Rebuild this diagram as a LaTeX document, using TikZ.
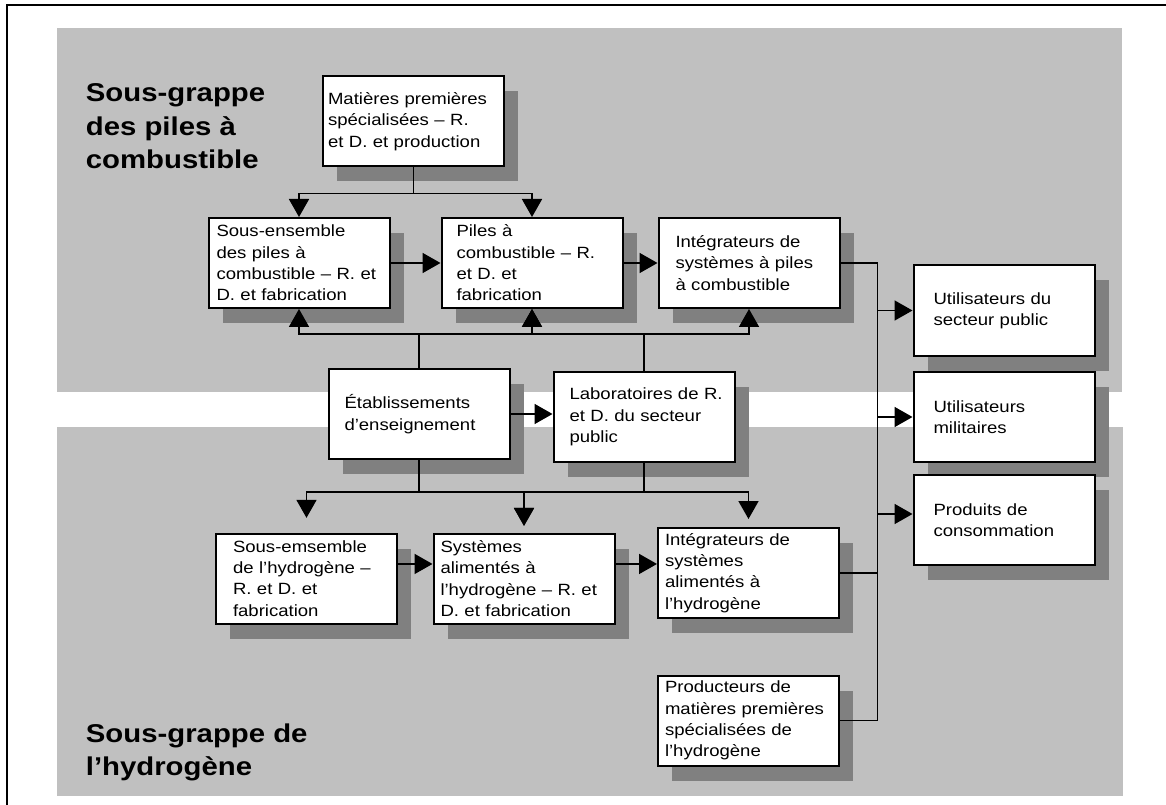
\documentclass[tikz,border=0pt]{standalone}
\usepackage{fontspec}
\setmainfont{Liberation Sans}[FakeStretch=1.14]
\usetikzlibrary{arrows.meta,shadows}

\definecolor{bandgrey}{HTML}{C0C0C0}
\definecolor{shadegrey}{HTML}{808080}

\begin{document}
\begin{tikzpicture}[x=0.75pt,y=-0.75pt,line width=1.3pt,
    >={Triangle[length=13.5pt,width=15pt]},
    box/.style={draw,fill=white,line width=1.5pt,minimum width=135.75pt,
      minimum height=67.5pt,inner xsep=0pt,inner ysep=0pt,text width=135.75pt,
      align=left,font=\fontsize{12.2pt}{16pt}\selectfont,
      drop shadow={shadow xshift=10.5pt,shadow yshift=-11.25pt,
        fill=shadegrey,draw=none,opacity=1}},
    pad/.style={execute at begin node={\leftskip=#1\relax}},
    title/.style={anchor=north west,inner sep=0pt,align=left,
      font=\fontsize{19.3pt}{25pt}\selectfont\bfseries}]
  \useasboundingbox (0,0) rectangle (1166,805);
  \fill[bandgrey] (57,28) rectangle (1122,392);
  \fill[bandgrey] (57,427) rectangle (1123,796);
  \draw (7,806) -- (7,5) -- (1167,5);

  \node[title] (pactitle) at (85,83) {Sous-grappe\\des piles à\\combustible};
  \node[title] (h2title)  at (85,723) {Sous-grappe de\\l’hydrogène};

  \node[box,pad=3.75pt]  (mat)     at (413.5,121.5) {Matières premières\\spécialisées – R.\\et D. et production};
  \node[box,pad=6pt]     (sens)    at (299,263)     {Sous-ensemble\\des piles à\\combustible – R. et\\D. et fabrication};
  \node[box,pad=11.25pt] (piles)   at (532,263)     {Piles à\\combustible – R.\\et D. et\\fabrication};
  \node[box,pad=12.75pt] (integ)   at (749,263)     {Intégrateurs de\\systèmes à piles\\à combustible};
  \node[box,pad=12pt]    (etab)    at (419,414)     {Établissements\\d’enseignement};
  \node[box,pad=12pt]    (labo)    at (644,417)     {Laboratoires de R.\\et D. du secteur\\public};
  \node[box,pad=15pt]    (usp)     at (1004,310.5)  {Utilisateurs du\\secteur public};
  \node[box,pad=15pt]    (umil)    at (1004,417)    {Utilisateurs\\militaires};
  \node[box,pad=15pt]    (prod)    at (1004,520)    {Produits de\\consommation};
  \node[box,pad=12.75pt] (sousemh) at (306.5,578.5) {Sous-emsemble\\de l’hydrogène –\\R. et D. et\\fabrication};
  \node[box,pad=5.25pt]  (syst)    at (524,578.5)   {Systèmes\\alimentés à\\l’hydrogène – R. et\\D. et fabrication};
  \node[box,pad=5.25pt]  (integh)  at (748.5,573)   {Intégrateurs de\\systèmes\\alimentés à\\l’hydrogène};
  \node[box,pad=5.25pt]  (produc)  at (748.5,720.5) {Producteurs de\\matières premières\\spécialisées de\\l’hydrogène};

  % fuel cell chain
  \draw (mat.south) -- ++(0,26) coordinate (matfork);
  \draw[->] (matfork) -| (sens.north);
  \draw[->] (matfork) -| (piles.north);
  \draw[->] (sens) -- (piles);
  \draw[->] (piles) -- (integ);

  % schools and labs feed both sub-clusters
  \draw (etab.north) -- ++(0,-34) coordinate (etabup);
  \draw[->] (etabup) -| (sens.south);
  \draw[->] (etabup) -| (piles.south);
  \draw (labo.north) -- ++(0,-37) coordinate (laboup);
  \draw[->] (laboup) -| (piles.south);
  \draw[->] (laboup) -| (integ.south);
  \draw[->] (etab.east) -- (etab.east -| labo.west);
  \draw (etab.south) -- ++(0,32) coordinate (etabdown);
  \draw[->,shorten >=11pt] (etabdown) -| (sousemh.north);
  \draw[->,shorten >=5pt] (etabdown) -| (syst.north);
  \draw (labo.south) -- ++(0,29) coordinate (labodown);
  \draw[->,shorten >=5pt] (labodown) -| (syst.north);
  \draw[->,shorten >=6pt] (labodown) -| (integh.north);

  % hydrogen chain
  \draw[->] ([yshift=10.9pt]sousemh.east) -- ([yshift=10.9pt]syst.west);
  \draw[->] ([yshift=10.9pt]syst.east) coordinate (systout) -- (systout -| integh.west);

  % out to the users
  \draw (integ.east) -- ++(37,0) coordinate (trunk) |- (produc.east);
  \draw (integh.east) -- (integh.east -| trunk);
  \draw[->] (trunk |- usp.west) -- (usp.west);
  \draw[->] (trunk |- umil.west) -- (umil.west);
  \draw[->] ([yshift=4.5pt]prod.west -| trunk) -- ([yshift=4.5pt]prod.west);
\end{tikzpicture}
\end{document}
